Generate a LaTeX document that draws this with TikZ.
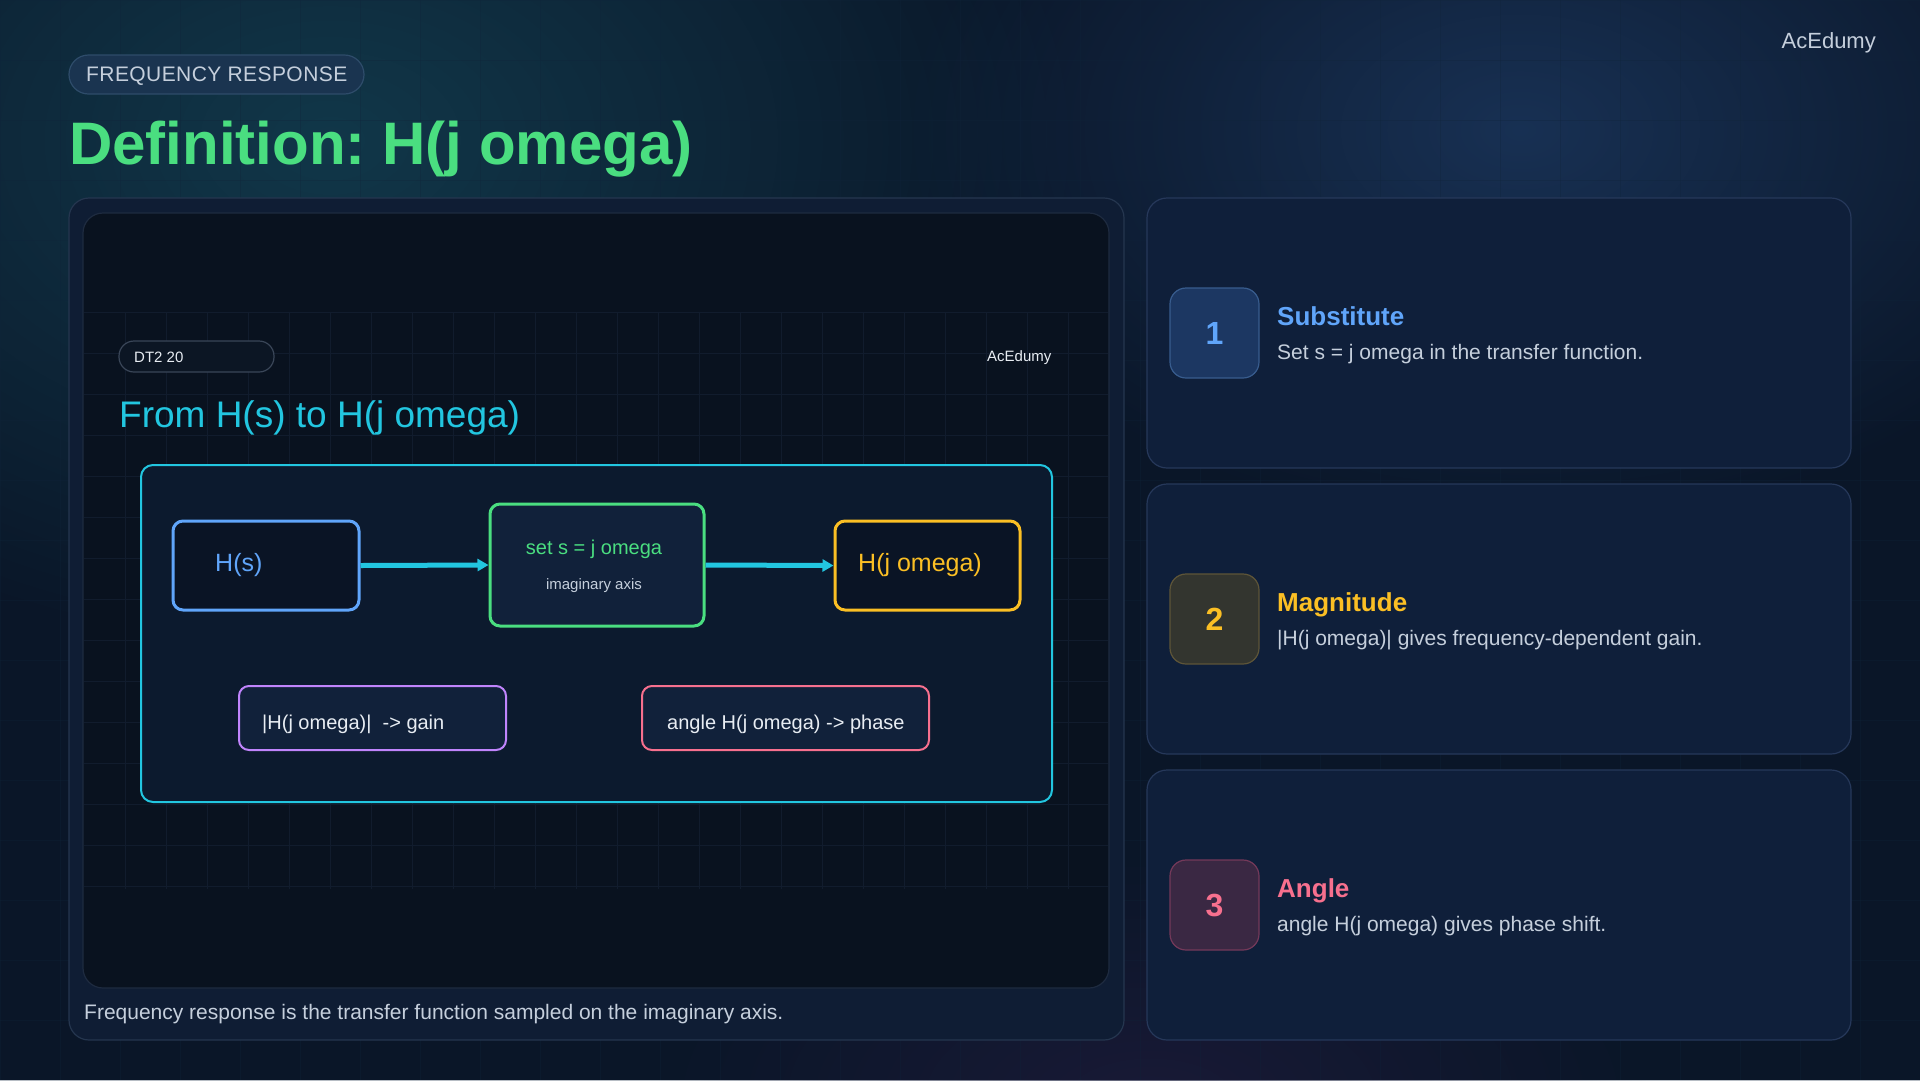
\documentclass[tikz,border=0pt]{standalone}
\usepackage{fontspec}
\setmainfont{Liberation Sans}
\usetikzlibrary{arrows.meta,fadings}
\tikzfading[name=glowfade, inner color=transparent!0, outer color=transparent!100]
\frenchspacing
\definecolor{bg}{HTML}{0A1628}
\definecolor{glowteal}{HTML}{134052}
\definecolor{glowblue}{HTML}{1E3C66}
\definecolor{glowpurple}{HTML}{231C40}
\definecolor{panelfill}{HTML}{0F1D34}
\definecolor{panelborder}{HTML}{25364F}
\definecolor{screenfill}{HTML}{09121F}
\definecolor{screenborder}{HTML}{1E2B40}
\definecolor{gridc}{HTML}{111C2D}
\definecolor{bggrid}{HTML}{10243A}
\definecolor{framefill}{HTML}{0C1A2E}
\definecolor{ccyan}{HTML}{22C6E0}
\definecolor{boxdark}{HTML}{0A1425}
\definecolor{midfill}{HTML}{11213A}
\definecolor{cblue}{HTML}{60A5FA}
\definecolor{cgreen}{HTML}{4ADE80}
\definecolor{camber}{HTML}{FBBF24}
\definecolor{cpurple}{HTML}{C084FC}
\definecolor{cpink}{HTML}{F7708E}
\definecolor{textlight}{HTML}{E8EDF3}
\definecolor{textmuted}{HTML}{C5CFDC}
\definecolor{cardfill}{HTML}{0F1F3A}
\definecolor{cardborder}{HTML}{26385A}
\definecolor{tagfill}{HTML}{1A3450}
\definecolor{tagborder}{HTML}{2E4C6A}
\definecolor{pillborder}{HTML}{3A4658}
\definecolor{pillfill}{HTML}{0C1624}
\definecolor{bfillA}{HTML}{1C3762}
\definecolor{bdrawA}{HTML}{385C8E}
\definecolor{bfillB}{HTML}{33352F}
\definecolor{bdrawB}{HTML}{5E5538}
\definecolor{bfillC}{HTML}{3A2843}
\definecolor{bdrawC}{HTML}{74395A}
\begin{document}
\begin{tikzpicture}[x=1pt,y=-1pt,
  txt/.style={inner sep=0pt, anchor=base west},
  fs/.style={font=\fontsize{#1}{#1}\selectfont},
  fsb/.style={font=\fontsize{#1}{#1}\selectfont\bfseries},
  panelbox/.style={draw=panelborder, fill=panelfill, line width=1.2pt, rounded corners=20pt, inner sep=0pt},
  cardbox/.style={draw=cardborder, fill=cardfill, line width=1.2pt, rounded corners=20pt, inner sep=0pt, minimum width=704pt, minimum height=270pt},
  badgebox/.style={line width=1.2pt, rounded corners=16pt, inner sep=0pt, minimum width=89pt, minimum height=90pt},
  flowbox/.style={line width=3pt, rounded corners=10pt, inner sep=0pt},
  notebox/.style={line width=2pt, fill=midfill, rounded corners=10pt, inner sep=0pt, minimum height=64pt},
  flow/.style={draw=ccyan, line width=5pt, -{Triangle[length=11pt,width=12pt]}}
]
\useasboundingbox (0,0) rectangle (1920,1080);
\fill[bg] (0,0) rectangle (1920,1080);
% glows
\fill[glowteal, opacity=0.8, path fading=glowfade] (330,140) ellipse (760 and 520);
\fill[glowblue, opacity=0.7, path fading=glowfade] (1520,130) ellipse (620 and 400);
\fill[glowpurple, opacity=0.6, path fading=glowfade] (1150,1100) ellipse (500 and 250);
% faint background grid
\foreach \gx in {0,60,...,1920} \draw[bggrid, line width=0.6pt, opacity=0.3] (\gx,0) -- (\gx,1080);
\foreach \gy in {0,60,...,1080} \draw[bggrid, line width=0.6pt, opacity=0.3] (0,\gy) -- (1920,\gy);

% header
\node[draw=tagborder, fill=tagfill, line width=1.2pt, rounded corners=19.5pt, minimum width=295pt, minimum height=39pt, inner sep=0pt] (tag) at (216.5,74.5) {};
\node[txt, fs=21, text=textmuted] (tagtext) at (86,81.5) {\addfontfeatures{LetterSpace=2}FREQUENCY RESPONSE};
\node[txt, fsb=60, text=cgreen] (title) at (69,164) {Definition: H(j omega)};
\node[inner sep=0pt, anchor=base east, fs=22, text=textmuted] (brand) at (1876,48) {AcEdumy};

% left panel
\node[panelbox, minimum width=1055pt, minimum height=842pt] (panel) at (596.5,619) {};
\node[draw=screenborder, fill=screenfill, line width=1.2pt, rounded corners=20pt, inner sep=0pt, minimum width=1026pt, minimum height=775pt] (screen) at (596,600.5) {};
\foreach \gx in {125,166,...,1100} \draw[gridc, line width=0.8pt] (\gx,312) -- (\gx,889);
\foreach \gy in {312,353,...,889} \draw[gridc, line width=0.8pt] (84,\gy) -- (1108,\gy);

\node[draw=pillborder, fill=pillfill, line width=1.2pt, rounded corners=15pt, minimum width=155pt, minimum height=31pt, inner sep=0pt] (dt) at (196.5,356.5) {};
\node[txt, fs=15, text=textlight] (dttext) at (134,362) {DT2 20};
\node[txt, fs=15, text=textlight] (brand2) at (987,361) {AcEdumy};
\node[txt, fs=37, text=ccyan] (subtitle) at (119,427) {From H(s) to H(j omega)};

\node[draw=ccyan, fill=framefill, line width=2pt, rounded corners=12pt, inner sep=0pt, minimum width=911pt, minimum height=337pt] (frame) at (596.5,633.5) {};

\node[flowbox, draw=cblue, fill=boxdark, minimum width=186pt, minimum height=89pt] (hs) at (266,565.5) {};
\node[txt, fs=25, text=cblue] (hstext) at (215,571) {H(s)};
\node[flowbox, draw=cgreen, fill=midfill, minimum width=214pt, minimum height=122pt] (mid) at (597,565) {};
\node[inner sep=0pt, anchor=base, fs=20, text=cgreen] (midtext) at (594,554) {set s = j omega};
\node[inner sep=0pt, anchor=base, fs=15, text=textmuted] (midsub) at (594,589) {imaginary axis};
\node[flowbox, draw=camber, fill=boxdark, minimum width=185pt, minimum height=89pt] (hj) at (927.5,565.5) {};
\node[txt, fs=25, text=camber] (hjtext) at (858,571) {H(j omega)};

\draw[flow] (hs.east) -- (mid.west);
\draw[flow] (mid.east) -- (hj.west);

\node[notebox, draw=cpurple, minimum width=267pt] (gain) at (372.5,718) {};
\node[txt, fs=20, text=textlight] (gaintext) at (262,729) {|H(j omega)|\ \ -> gain};
\node[notebox, draw=cpink, minimum width=287pt] (phase) at (785.5,718) {};
\node[txt, fs=20, text=textlight] (phasetext) at (667,729) {angle H(j omega) -> phase};

\node[txt, fs=21, text=textmuted] (caption) at (84,1019) {Frequency response is the transfer function sampled on the imaginary axis.};

% right cards
\node[cardbox] (card1) at (1499,333) {};
\node[badgebox, draw=bdrawA, fill=bfillA] (badge1) at (1214.5,333) {};
\node[inner sep=0pt, anchor=base, fsb=32, text=cblue] (num1) at (1214.5,344.5) {1};
\node[txt, fsb=26, text=cblue] (head1) at (1277,325) {Substitute};
\node[txt, fs=21, text=textmuted] (desc1) at (1277,359) {Set s = j omega in the transfer function.};

\node[cardbox] (card2) at (1499,619) {};
\node[badgebox, draw=bdrawB, fill=bfillB] (badge2) at (1214.5,619) {};
\node[inner sep=0pt, anchor=base, fsb=32, text=camber] (num2) at (1214.5,630.5) {2};
\node[txt, fsb=26, text=camber] (head2) at (1277,611) {Magnitude};
\node[txt, fs=21, text=textmuted] (desc2) at (1277,645) {|H(j omega)| gives frequency-dependent gain.};

\node[cardbox] (card3) at (1499,905) {};
\node[badgebox, draw=bdrawC, fill=bfillC] (badge3) at (1214.5,905) {};
\node[inner sep=0pt, anchor=base, fsb=32, text=cpink] (num3) at (1214.5,916.5) {3};
\node[txt, fsb=26, text=cpink] (head3) at (1277,897) {Angle};
\node[txt, fs=21, text=textmuted] (desc3) at (1277,931) {angle H(j omega) gives phase shift.};
\end{tikzpicture}
\end{document}
